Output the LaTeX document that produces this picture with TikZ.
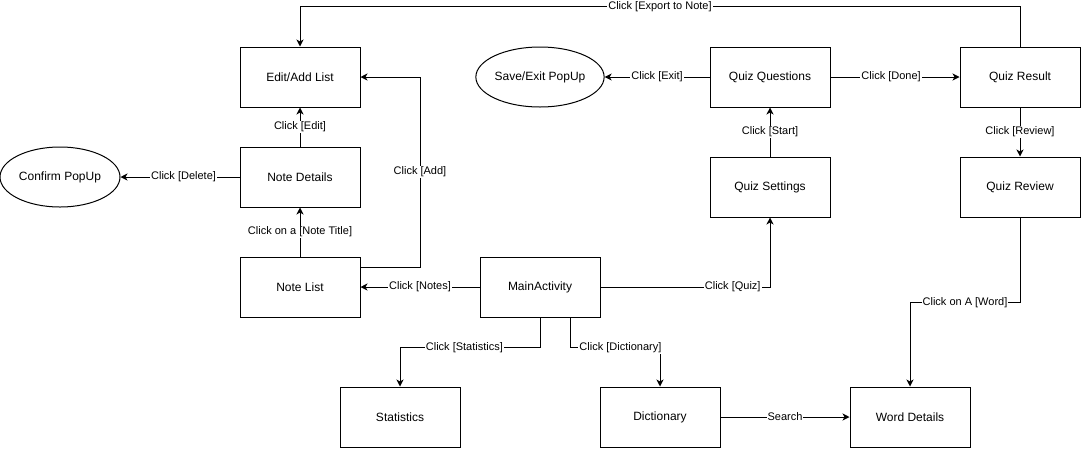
\documentclass[tikz,border=0pt]{standalone}
\usepackage{fontspec}
\setmainfont{Liberation Sans}
\usetikzlibrary{arrows.meta,calc,shapes.geometric}
\begin{document}
\begin{tikzpicture}[x=1pt,y=-1pt,
  box/.style={draw,line width=1pt,minimum width=120pt,minimum height=60pt,inner sep=0pt,font=\fontsize{12}{14}\selectfont},
  oval/.style={draw,ellipse,line width=1pt,minimum width=120pt,minimum height=60pt,inner sep=0pt,font=\fontsize{12}{14}\selectfont},
  conn/.style={line width=1pt,-{Stealth[length=7pt,width=7pt,inset=2pt]}},
  lbl/.style={fill=white,inner sep=1pt,font=\fontsize{11}{13}\selectfont}]
\useasboundingbox (0,0) rectangle (1081,448);
\node[box] (edit) at (300,77) {Edit/Add List};
\node[box] (ndet) at (300,177) {Note Details};
\node[box] (nlist) at (300,287) {Note List};
\node[box] (main) at (540,287) {MainActivity};
\node[box] (stat) at (400,417) {Statistics};
\node[box] (dict) at (660,417) {Dictionary};
\node[box] (word) at (910,417) {Word Details};
\node[box] (qset) at (770,187) {Quiz Settings};
\node[box] (qq) at (770,77) {Quiz Questions};
\node[box] (qres) at (1020,77) {Quiz Result};
\node[box] (qrev) at (1020,187) {Quiz Review};
\node[oval] (save) at (540,77) {Save/Exit PopUp};
\node[oval] (conf) at (60,177) {Confirm PopUp};
\coordinate (addc) at (420,77);
% connectors
\draw[conn] (qres.north) -- ++(0,-40) -| node[lbl,pos=0.25] {Click [Export to Note]} (edit.north);
\draw[conn] (ndet.north) -- node[lbl] {Click [Edit]} (edit.south);
\draw[conn] (nlist.north) -- node[lbl] {Click on a [Note Title]} (ndet.south);
\draw[conn] (ndet.west) -- node[lbl,pos=0.47] {Click [Delete]} (conf.east);
\draw[conn] ($(nlist.east)+(0,-20)$) -| node[lbl,pos=0.75] {Click [Add]} (addc) -- (edit.east);
\draw[conn] (main.west) -- node[lbl] {Click [Notes]} (nlist.east);
\draw[conn] (main.east) -| node[lbl,pos=0.39] {Click [Quiz]} (qset.south);
\draw[conn] (qset.north) -- node[lbl] {Click [Start]} (qq.south);
\draw[conn] (qq.west) -- node[lbl] {Click [Exit]} (save.east);
\draw[conn] (qq.east) -- node[lbl,pos=0.47] {Click [Done]} (qres.west);
\draw[conn] (qres.south) -- node[lbl,pos=0.5] {Click [Review]} (qrev.north);
\draw[conn] (main.south) -- ++(0,30) -| node[lbl,pos=0.27] {Click [Statistics]} (stat.north);
\draw[conn] ($(main.south)+(30,0)$) -- ++(0,30) -| node[lbl,pos=0.28] {Click [Dictionary]} (dict.north);
\draw[conn] (dict.east) -- node[lbl] {Search} (word.west);
\draw[conn] (qrev.south) -- ++(0,85) -| node[lbl,pos=0.25] {Click on A [Word]} (word.north);
\end{tikzpicture}
\end{document}
